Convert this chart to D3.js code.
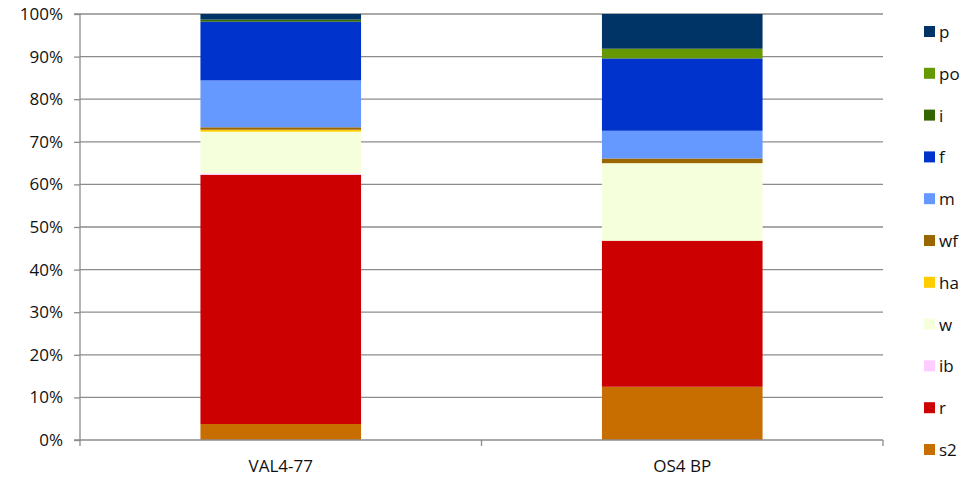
<!DOCTYPE html>
<html><head><meta charset="utf-8">
<script src="https://cdn.jsdelivr.net/npm/d3@7/dist/d3.min.js"></script>
<style>body{margin:0;background:#fff}svg{display:block}text{font-family:Candara,"Open Sans",Lato,sans-serif;fill:#111}</style>
</head><body><svg id="c" width="965" height="479"></svg>
<script>
const categories = ["VAL4-77", "OS4 BP"];
const seriesNames = ["s2", "r", "ib", "w", "ha", "wf", "m", "f", "i", "po", "p"];
const seriesColors = ["#C86E00", "#CC0000", "#FFCCFF", "#F5FFDC", "#FFCC00", "#996600", "#6699FF", "#0033CC", "#336600", "#669900", "#003366"];
const s2 = [3.75, 12.5];
const r = [58.5, 34.3];
const ib = [0.33, 0];
const w = [9.8, 18.2];
const ha = [0.47, 0];
const wf = [0.56, 1.1];
const m = [11.0, 6.5];
const f = [13.8, 17.0];
const i = [0.5, 0];
const po = [0, 2.27];
const p = [1.3, 8.15];
const yTicks = [0, 0.1, 0.2, 0.3, 0.4, 0.5, 0.6, 0.7, 0.8, 0.9, 1.0];

const seriesValues = [s2, r, ib, w, ha, wf, m, f, i, po, p];
const table = categories.map((c, ci) => {
  const row = {cat: c};
  const tot = d3.sum(seriesValues, v => v[ci]);
  seriesNames.forEach((n, si) => row[n] = seriesValues[si][ci] / tot);
  return row;
});
const stack = d3.stack().keys(seriesNames)(table);

const svg = d3.select("#c");
const L = 80, R = 883, T = 14, B = 440;
const FONT = "Candara,'Open Sans',Lato,sans-serif";
const x = d3.scaleBand().domain(categories).range([L, R]).paddingInner(0.6).paddingOuter(0.3);
const xb = d3.scaleBand().domain(categories).range([L, R]);
const y = d3.scaleLinear().domain([0, 1]).range([B, T]);
const color = d3.scaleOrdinal().domain(seriesNames).range(seriesColors);

// gridlines
svg.append("g").selectAll("line").data(yTicks.filter(t => t > 0)).join("line")
  .attr("x1", L).attr("x2", R).attr("y1", d => y(d)).attr("y2", d => y(d))
  .attr("stroke", "#8c8c8c").attr("stroke-width", 1.3);

// bars
svg.append("g").selectAll("g").data(stack).join("g")
  .attr("fill", d => color(d.key))
  .selectAll("rect").data(d => d).join("rect")
  .attr("x", d => x(d.data.cat)).attr("width", x.bandwidth())
  .attr("y", d => y(d[1])).attr("height", d => y(d[0]) - y(d[1]));

// y axis
const yAxis = d3.axisLeft(y).tickValues(yTicks).tickFormat(d3.format(".0%")).tickSize(6).tickPadding(11);
const gy = svg.append("g").attr("transform", `translate(${L},0)`).call(yAxis);
gy.selectAll("path,line").attr("stroke", "#8c8c8c").attr("stroke-width", 1.3);
gy.select(".domain").attr("d", `M-6,${T}H0V${B}H-6`);
gy.selectAll("text").attr("font-size", 17).style("font-family", FONT).attr("fill", "#111");

// x axis
const gx = svg.append("g").attr("transform", `translate(0,${B})`);
gx.append("line").attr("x1", L).attr("x2", R).attr("stroke", "#8c8c8c").attr("stroke-width", 1.3);
const bounds = [L].concat(categories.map(c => xb(c) + xb.bandwidth()));
gx.selectAll("line.t").data(bounds).join("line").attr("class", "t")
  .attr("x1", d => d).attr("x2", d => d).attr("y1", 0).attr("y2", 6)
  .attr("stroke", "#8c8c8c").attr("stroke-width", 1.3);
gx.selectAll("text").data(categories).join("text")
  .attr("x", d => x(d) + x.bandwidth() / 2).attr("y", 32)
  .attr("text-anchor", "middle").attr("font-size", 17).text(d => d);

// legend
const legend = svg.append("g");
const legendOrder = seriesNames.slice().reverse();
const ly = d3.scalePoint().domain(legendOrder).range([32, 450]);
const li = legend.selectAll("g").data(legendOrder).join("g")
  .attr("transform", d => `translate(924,${ly(d)})`);
li.append("rect").attr("x", 0).attr("y", -6).attr("width", 11).attr("height", 11).attr("fill", d => color(d));
li.append("text").attr("x", 15).attr("y", 6).attr("font-size", 17).text(d => d);
</script></body></html>
